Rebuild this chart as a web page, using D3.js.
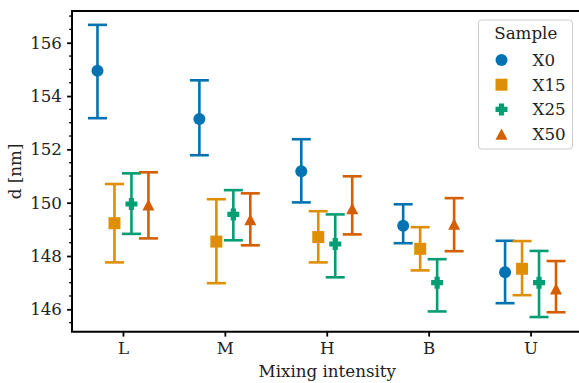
<!DOCTYPE html>
<html>
<head>
    <style>
        body {
            margin: 0;
            background: #fff;
            font-family: "DejaVu Serif", serif;
        }
        svg text {
            font-family: "DejaVu Serif", serif;
            font-size: 16.7px;
            fill: #222;
        }
    </style>
</head>
<body>
    <div id="chart"></div>
    <script src="https://d3js.org/d3.v7.min.js"></script>
    <script>
        var categories = ["L", "M", "H", "B", "U"];
        var samples = ["X0", "X15", "X25", "X50"];

        // mean, lower and upper of the error bar for each sample, by category
        var meanX0 = [154.95, 153.14, 151.18, 149.13, 147.39];
        var lowX0 = [153.17, 151.78, 150.01, 148.48, 146.23];
        var highX0 = [156.67, 154.59, 152.38, 149.94, 148.57];

        var meanX15 = [149.23, 148.54, 148.71, 148.27, 147.52];
        var lowX15 = [147.76, 146.98, 147.76, 147.46, 146.53];
        var highX15 = [150.70, 150.13, 149.68, 149.08, 148.56];

        var meanX25 = [149.95, 149.56, 148.45, 147.00, 147.00];
        var lowX25 = [148.83, 148.59, 147.20, 145.92, 145.71];
        var highX25 = [151.10, 150.47, 149.56, 147.88, 148.19];

        var meanX50 = [149.92, 149.37, 149.78, 149.20, 146.77];
        var lowX50 = [148.66, 148.40, 148.81, 148.18, 145.89];
        var highX50 = [151.14, 150.35, 150.99, 150.17, 147.81];

        var yTicks = [146, 148, 150, 152, 154, 156];

        var colors = ["#0173b2", "#de8f05", "#029e73", "#d55e00"];
        var means = [meanX0, meanX15, meanX25, meanX50];
        var lows = [lowX0, lowX15, lowX25, lowX50];
        var highs = [highX0, highX15, highX25, highX50];

        var W = 579, H = 383;
        var margin = { left: 72, right: 581.5, top: 11, bottom: 331.7 };

        var svg = d3.select("#chart").append("svg")
            .attr("width", W)
            .attr("height", H);

        var x = d3.scaleLinear()
            .domain([-0.5, categories.length - 0.5])
            .range([margin.left, margin.right]);

        var y = d3.scaleLinear()
            .domain([145.16, 157.19])
            .range([margin.bottom, margin.top]);

        var dodge = d3.scalePoint()
            .domain(samples)
            .range([-0.25, 0.25]);

        // plus shape like matplotlib "P"
        function plusPath(s) {
            var a = s / 2, b = s / 4.6;
            return "M" + (-b) + "," + (-a) + "H" + b + "V" + (-b) + "H" + a + "V" + b + "H" + b +
                "V" + a + "H" + (-b) + "V" + b + "H" + (-a) + "V" + (-b) + "H" + (-b) + "Z";
        }

        function markerPath(i, s) {
            if (i == 0) return d3.symbol().type(d3.symbolCircle).size(Math.PI * s * s / 4)();
            if (i == 1) return "M" + (-s / 2) + "," + (-s / 2) + "h" + s + "v" + s + "h" + (-s) + "Z";
            if (i == 2) return plusPath(s);
            var h = s * 0.95;
            return "M0," + (-h / 2) + "L" + (s / 2) + "," + (h / 2) + "L" + (-s / 2) + "," + (h / 2) + "Z";
        }

        var rows = [];
        samples.forEach(function (s, i) {
            categories.forEach(function (c, j) {
                rows.push({
                    sample: s, si: i, ci: j,
                    mean: means[i][j], low: lows[i][j], high: highs[i][j]
                });
            });
        });

        // axes
        var xAxis = d3.axisBottom(x)
            .tickValues(d3.range(categories.length))
            .tickFormat(function (d) { return categories[d]; })
            .tickSize(4.9)
            .tickPadding(5.9);

        var yAxis = d3.axisLeft(y)
            .tickValues(yTicks)
            .tickFormat(d3.format("d"))
            .tickSize(4.9)
            .tickPadding(5.1);

        var gx = svg.append("g")
            .attr("class", "x axis")
            .attr("transform", "translate(0," + margin.bottom + ")")
            .call(xAxis);

        var gy = svg.append("g")
            .attr("class", "y axis")
            .attr("transform", "translate(" + margin.left + ",0)")
            .call(yAxis);

        var minor = d3.range(145.5, 157.1, 0.5).filter(function (v) { return v % 2 != 0; });
        gy.selectAll(".minor")
            .data(minor)
            .enter().append("line")
            .attr("class", "minor")
            .attr("x1", 0).attr("x2", -2.8)
            .attr("y1", function (d) { return y(d); })
            .attr("y2", function (d) { return y(d); })
            .attr("stroke", "#000")
            .attr("stroke-width", 1.4);

        svg.selectAll(".axis .domain").remove();
        svg.selectAll(".axis .tick line")
            .attr("stroke", "#000")
            .attr("stroke-width", 1.8);

        // spines
        svg.append("path")
            .attr("d", "M" + margin.right + "," + margin.top + "H" + margin.left + "V" + margin.bottom + "H" + margin.right)
            .attr("fill", "none")
            .attr("stroke", "#000")
            .attr("stroke-width", 2);

        // error bars
        var cap = 19;
        var bars = svg.append("g").selectAll("g")
            .data(rows)
            .enter().append("g")
            .attr("stroke", function (d) { return colors[d.si]; })
            .attr("stroke-width", 2.6);

        bars.append("line")
            .attr("x1", function (d) { return x(d.ci + dodge(d.sample)); })
            .attr("x2", function (d) { return x(d.ci + dodge(d.sample)); })
            .attr("y1", function (d) { return y(d.low); })
            .attr("y2", function (d) { return y(d.high); });

        bars.append("line")
            .attr("x1", function (d) { return x(d.ci + dodge(d.sample)) - cap / 2; })
            .attr("x2", function (d) { return x(d.ci + dodge(d.sample)) + cap / 2; })
            .attr("y1", function (d) { return y(d.low); })
            .attr("y2", function (d) { return y(d.low); });

        bars.append("line")
            .attr("x1", function (d) { return x(d.ci + dodge(d.sample)) - cap / 2; })
            .attr("x2", function (d) { return x(d.ci + dodge(d.sample)) + cap / 2; })
            .attr("y1", function (d) { return y(d.high); })
            .attr("y2", function (d) { return y(d.high); });

        // markers
        svg.append("g").selectAll("path")
            .data(rows)
            .enter().append("path")
            .attr("transform", function (d) {
                return "translate(" + x(d.ci + dodge(d.sample)) + "," + y(d.mean) + ")";
            })
            .attr("d", function (d) { return markerPath(d.si, 12); })
            .attr("fill", function (d) { return colors[d.si]; });

        // axis labels
        svg.append("text")
            .attr("x", (margin.left + margin.right) / 2 + 0.5)
            .attr("y", 376.7)
            .attr("text-anchor", "middle")
            .text("Mixing intensity");

        svg.append("text")
            .attr("transform", "translate(21," + ((margin.top + margin.bottom) / 2) + ") rotate(-90)")
            .attr("text-anchor", "middle")
            .text("d [nm]");

        // legend
        var legend = svg.append("g")
            .attr("transform", "translate(478.5,20)");

        legend.append("rect")
            .attr("width", 94)
            .attr("height", 129)
            .attr("rx", 3)
            .attr("fill", "#fff")
            .attr("fill-opacity", 0.8)
            .attr("stroke", "#ccc")
            .attr("stroke-width", 1);

        legend.append("text")
            .attr("x", 47.3)
            .attr("y", 19.3)
            .attr("text-anchor", "middle")
            .text("Sample");

        var items = legend.selectAll(".item")
            .data(samples)
            .enter().append("g")
            .attr("class", "item")
            .attr("transform", function (d, i) { return "translate(0," + (40 + i * 24.7) + ")"; });

        items.append("path")
            .attr("transform", "translate(23,0)")
            .attr("d", function (d, i) { return markerPath(i, 12); })
            .attr("fill", function (d, i) { return colors[i]; });

        items.append("text")
            .attr("x", 54)
            .attr("y", 6)
            .text(function (d) { return d; });
    </script>
</body>
</html>
